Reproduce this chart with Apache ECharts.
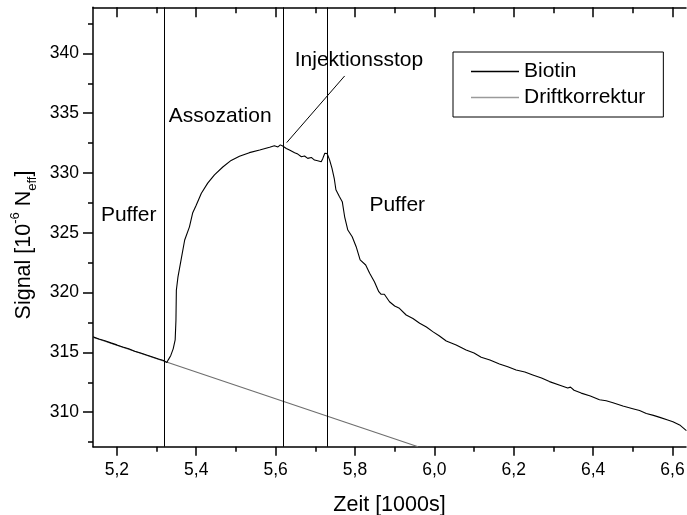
<!DOCTYPE html>
<html>
<head>
<meta charset="utf-8">
<script src="https://cdn.jsdelivr.net/npm/echarts@6/dist/echarts.min.js"></script>
<style>html,body{margin:0;padding:0;background:#fff;}#c{width:687px;height:515px;}</style>
</head>
<body>
<div id="c"></div>
<script>
// ---- data ----
const biotin = [
[5.140,316.30],[5.155,316.12],[5.170,315.98],[5.185,315.80],[5.200,315.63],[5.215,315.45],[5.230,315.30],[5.245,315.10],[5.260,314.95],[5.275,314.78],[5.290,314.62],[5.305,314.45],[5.318,314.32],[5.323,314.35],[5.326,314.15],[5.330,314.40],[5.336,314.75],[5.342,315.30],[5.347,316.05],[5.349,317.70],[5.350,320.20],[5.354,321.30],[5.362,322.75],[5.371,324.40],[5.383,325.50],[5.391,326.65],[5.400,327.30],[5.413,328.30],[5.429,329.15],[5.446,329.85],[5.467,330.50],[5.488,331.05],[5.509,331.40],[5.534,331.70],[5.560,331.92],[5.585,332.15],[5.597,332.28],[5.606,332.18],[5.612,332.35],[5.618,332.25],[5.627,332.05],[5.635,331.92],[5.648,331.70],[5.656,331.58],[5.665,331.36],[5.673,331.42],[5.681,331.22],[5.690,331.30],[5.698,331.08],[5.706,331.02],[5.715,330.94],[5.719,331.22],[5.724,331.65],[5.730,331.62],[5.736,331.10],[5.742,330.40],[5.748,329.50],[5.752,328.60],[5.761,328.02],[5.768,327.60],[5.774,326.34],[5.782,325.23],[5.793,324.67],[5.803,323.84],[5.813,322.73],[5.827,322.31],[5.837,321.62],[5.849,320.91],[5.860,320.08],[5.866,319.86],[5.874,319.86],[5.887,319.24],[5.900,318.88],[5.912,318.69],[5.929,318.13],[5.946,317.84],[5.963,317.44],[5.980,317.12],[5.996,316.74],[6.012,316.40],[6.030,315.96],[6.055,315.62],[6.080,315.21],[6.100,314.95],[6.118,314.60],[6.140,314.36],[6.164,314.04],[6.185,313.80],[6.206,313.53],[6.228,313.36],[6.248,313.12],[6.270,312.86],[6.290,312.56],[6.318,312.24],[6.336,312.02],[6.343,312.10],[6.352,311.84],[6.370,311.60],[6.393,311.36],[6.416,311.05],[6.433,310.96],[6.450,310.80],[6.475,310.52],[6.500,310.30],[6.517,310.14],[6.534,309.90],[6.552,309.74],[6.570,309.55],[6.588,309.36],[6.601,309.21],[6.618,308.94],[6.635,308.46]
];
const drift = [[5.140,316.27],[5.959,307.12]];
const phaseMarks = [5.323, 5.617, 5.728];
const pointerLine = [[5.628,332.54],[5.774,338.11]];
const annotations = [
  [5.230,326.49,'Puffer'],
  [5.4605,334.77,'Assozation'],
  [5.810,339.45,'Injektionsstop'],
  [5.9065,327.33,'Puffer']
];
const xMajor = [5.2,5.4,5.6,5.8,6.0,6.2,6.4,6.6];
const xMinor = [5.3,5.5,5.7,5.9,6.1,6.3,6.5];
const yMajor = [310,315,320,325,330,335,340];
const yMinor = [307.5,312.5,317.5,322.5,327.5,332.5,337.5,342.5];
const xRange = [5.14, 6.634];
const yRange = [307.12, 343.85];

// ---- chart ----
const FONT = 'Liberation Sans, Arial, sans-serif';
const chart = echarts.init(document.getElementById('c'), null, {renderer:'canvas'});
const axLine = {show:true, lineStyle:{color:'#000', width:1.5}};
function xAx(pos, vals, len, inside, labels, line){
  return {
    type:'value', position:pos, min:xRange[0], max:xRange[1],
    axisLine: line ? axLine : {show:false},
    axisTick:{show:true, inside:inside, length:len, customValues:vals, lineStyle:{color:'#000', width:1.5}},
    axisLabel: labels ? {show:true, customValues:vals, margin:14, fontSize:17.5, color:'#000', fontFamily:FONT,
      formatter:v=>v.toFixed(1).replace('.',',')} : {show:false},
    splitLine:{show:false}
  };
}
function yAx(vals, len, labels, line){
  return {
    type:'value', position:'left', min:yRange[0], max:yRange[1],
    axisLine: line ? axLine : {show:false},
    axisTick:{show:true, inside:false, length:len, customValues:vals, lineStyle:{color:'#000', width:1.5}},
    axisLabel: labels ? {show:true, customValues:vals, margin:14, fontSize:17.5, color:'#000', fontFamily:FONT} : {show:false},
    splitLine:{show:false}
  };
}
const xMain = xAx('bottom', xMajor, 9, false, true, true);
xMain.name = 'Zeit [1000s]';
xMain.nameLocation = 'middle';
xMain.nameGap = 47;
xMain.nameTextStyle = {fontSize:21.5, color:'#000', fontFamily:FONT};
const yMain = yAx(yMajor, 10, true, true);
yMain.name = 'Signal [10{sup|-6} N{sub|eff}]';
yMain.nameLocation = 'middle';
yMain.nameGap = 52;
yMain.nameTextStyle = {fontSize:21.5, color:'#000', fontFamily:FONT, lineHeight:30, padding:[0,36,0,0],
  rich:{
    sup:{fontSize:13, color:'#000', fontFamily:FONT, verticalAlign:'top', lineHeight:30},
    sub:{fontSize:13, color:'#000', fontFamily:FONT, verticalAlign:'bottom', lineHeight:22}
  }};

chart.setOption({
  animation:false,
  backgroundColor:'#fff',
  grid:{left:93, top:7.3, right:1, bottom:68.3, containLabel:false, outerBoundsMode:'none'},
  legend:{
    data:[
      {name:'Biotin', icon:'rect', itemStyle:{color:'#000', borderWidth:0}},
      {name:'Driftkorrektur', icon:'rect', itemStyle:{color:'#9a9a9a', borderWidth:0}}
    ],
    orient:'vertical', left:453, top:52,
    padding:[9,18,9,18], itemGap:5, itemWidth:48, itemHeight:1.5,
    borderColor:'#000', borderWidth:1,
    textStyle:{fontSize:21, color:'#000', fontFamily:FONT, lineHeight:21}
  },
  xAxis:[
    xMain,
    xAx('bottom', xMinor, 5, false, false, false),
    xAx('top', xMajor, 10, true, false, true),
    xAx('top', xMinor, 6, true, false, false)
  ],
  yAxis:[
    yMain,
    yAx(yMinor, 5, false, false)
  ],
  series:[
    {name:'Driftkorrektur', type:'line', data:drift, symbol:'none', xAxisIndex:0, yAxisIndex:0,
     lineStyle:{color:'#6e6e6e', width:1.2}, itemStyle:{color:'#6e6e6e'}},
    {name:'Biotin', type:'line', data:biotin, symbol:'none', xAxisIndex:0, yAxisIndex:0,
     lineStyle:{color:'#000', width:1.1}, itemStyle:{color:'#000'},
     markLine:{silent:true, symbol:['none','none'], label:{show:false},
       lineStyle:{color:'#000', width:1, type:'solid'},
       data: phaseMarks.map(v=>({xAxis:v}))}},
    {name:'pointer', type:'line', data:pointerLine, symbol:'none', xAxisIndex:0, yAxisIndex:0,
     lineStyle:{color:'#000', width:1}},
    {name:'notes', type:'scatter', data:annotations, symbolSize:0, xAxisIndex:0, yAxisIndex:0,
     itemStyle:{opacity:1},
     label:{show:true, position:'inside', formatter:p=>p.data[2], fontSize:21, color:'#000', fontFamily:FONT,
       textBorderWidth:0, textBorderColor:'transparent', opacity:1}}
  ]
});
</script>
</body>
</html>
